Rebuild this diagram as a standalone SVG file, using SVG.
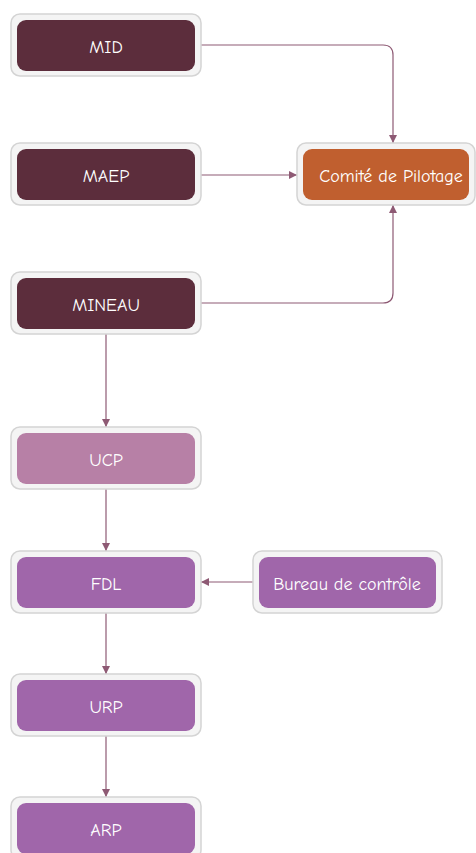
<svg xmlns="http://www.w3.org/2000/svg" width="476" height="853" viewBox="0 0 476 853">
<style>
.outer{fill:#f4f4f4;stroke:#d4d4d4;stroke-width:1.5}
.dark{fill:#5c2d3c}
.orange{fill:#c05f2f}
.pink{fill:#b780a6}
.purple{fill:#a066aa}
text{font-family:"Comic Neue","Lato","Noto Sans",sans-serif;font-size:18px;fill:#ffffff;text-anchor:middle;dominant-baseline:central}
.conn{fill:none;stroke:#8e5a74;stroke-width:1.2}
</style>
<defs>
<marker id="arr" viewBox="0 0 10 10" refX="10" refY="5" markerWidth="8" markerHeight="8" markerUnits="userSpaceOnUse" orient="auto">
<path d="M0,0 L10,5 L0,10 z" fill="#8e5a74"/>
</marker>
</defs>
<rect width="476" height="853" fill="#ffffff"/>
<g id="connectors">
<path class="conn" d="M201,45 H383 Q393,45 393,55 V143" marker-end="url(#arr)"/>
<path class="conn" d="M201,175 H297" marker-end="url(#arr)"/>
<path class="conn" d="M201,303 H383 Q393,303 393,293 V205" marker-end="url(#arr)"/>
<path class="conn" d="M106,334 V427" marker-end="url(#arr)"/>
<path class="conn" d="M106,489 V551" marker-end="url(#arr)"/>
<path class="conn" d="M253,582 H201" marker-end="url(#arr)"/>
<path class="conn" d="M106,613 V674" marker-end="url(#arr)"/>
<path class="conn" d="M106,736 V797" marker-end="url(#arr)"/>
</g>
<g id="MID">
<rect class="outer" x="11" y="14" width="190" height="62" rx="9"/>
<rect class="dark" x="17" y="20" width="178" height="51" rx="9"/>
<text x="106" y="47">MID</text>
</g>
<g id="MAEP">
<rect class="outer" x="11" y="143" width="190" height="62" rx="9"/>
<rect class="dark" x="17" y="149" width="178" height="51" rx="9"/>
<text x="106" y="176">MAEP</text>
</g>
<g id="Comite">
<rect class="outer" x="297" y="143" width="178" height="62" rx="9"/>
<rect class="orange" x="303" y="149" width="166" height="51" rx="9"/>
<text x="391" y="176">Comité de Pilotage</text>
</g>
<g id="MINEAU">
<rect class="outer" x="11" y="272" width="190" height="62" rx="9"/>
<rect class="dark" x="17" y="278" width="178" height="51" rx="9"/>
<text x="106" y="305">MINEAU</text>
</g>
<g id="UCP">
<rect class="outer" x="11" y="427" width="190" height="62" rx="9"/>
<rect class="pink" x="17" y="433" width="178" height="51" rx="9"/>
<text x="106" y="460">UCP</text>
</g>
<g id="FDL">
<rect class="outer" x="11" y="551" width="190" height="62" rx="9"/>
<rect class="purple" x="17" y="557" width="178" height="51" rx="9"/>
<text x="106" y="584">FDL</text>
</g>
<g id="Bureau">
<rect class="outer" x="253" y="551" width="189" height="62" rx="9"/>
<rect class="purple" x="259" y="557" width="177" height="51" rx="9"/>
<text x="347" y="584">Bureau de contrôle</text>
</g>
<g id="URP">
<rect class="outer" x="11" y="674" width="190" height="62" rx="9"/>
<rect class="purple" x="17" y="680" width="178" height="51" rx="9"/>
<text x="106" y="707">URP</text>
</g>
<g id="ARP">
<rect class="outer" x="11" y="797" width="190" height="62" rx="9"/>
<rect class="purple" x="17" y="803" width="178" height="51" rx="9"/>
<text x="106" y="830">ARP</text>
</g>
</svg>
